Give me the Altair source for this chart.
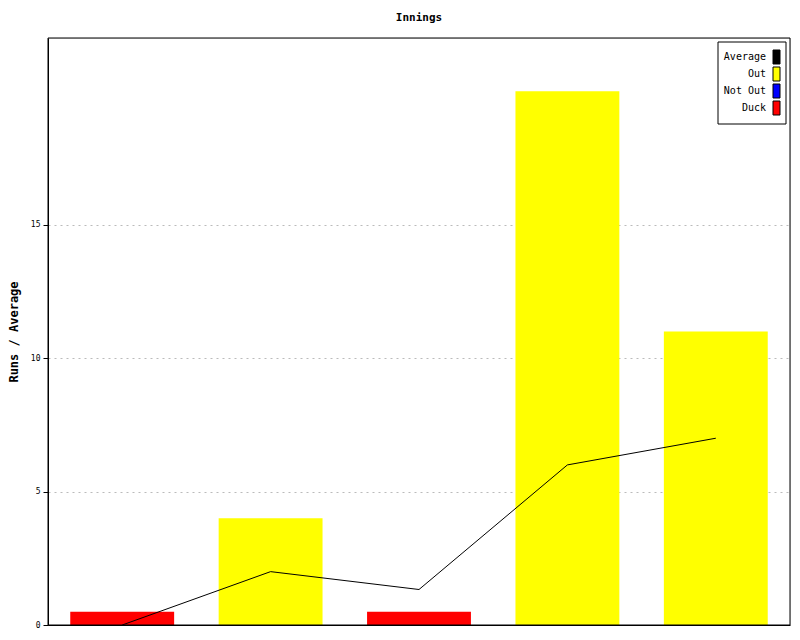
import altair as alt
import pandas as pd

innings = [1, 2, 3, 4, 5]
bar_values = [0.5, 4, 0.5, 20, 11]
status = ["Duck", "Out", "Duck", "Out", "Out"]
average = [0, 2, 1.33, 6, 7]

legend_labels = ["Average", "Out", "Not Out", "Duck"]
legend_colors = ["#000000", "#ffff00", "#0000ff", "#ff0000"]

FONT = "DejaVu Sans Mono"

df = pd.DataFrame({"inning": innings, "value": bar_values, "status": status, "avg": average})
leg = pd.DataFrame({"label": legend_labels})

color_scale = alt.Scale(domain=legend_labels, range=legend_colors)
yscale = alt.Scale(domain=[0, 22], nice=False, zero=True)
xenc = alt.X("inning:N", scale=alt.Scale(paddingInner=0.3, paddingOuter=0.15),
             axis=alt.Axis(labels=False, ticks=False, title=None, domainColor="black", grid=False))

bars = alt.Chart(df).mark_bar().encode(
    x=xenc,
    y=alt.Y("value:Q", scale=yscale,
            axis=alt.Axis(values=[0, 5, 10, 15], title="Runs / Average", grid=True,
                          gridDash=[2, 4], gridColor="#bbbbbb", domainColor="black",
                          tickColor="black", tickSize=5, labelFontSize=8, labelFont=FONT,
                          labelColor="black", labelPadding=3, titleFont=FONT, titleFontSize=12,
                          titleFontWeight="bold", titleColor="black", titlePadding=10)),
    color=alt.Color("status:N", scale=color_scale, legend=None),
)

line = alt.Chart(df).mark_line(color="black", strokeWidth=1).encode(
    x=xenc,
    y=alt.Y("avg:Q", scale=yscale, axis=None),
)

frame = alt.Chart(pd.DataFrame({"a": [0]})).mark_rect(fill="transparent", stroke="black", strokeWidth=1).encode(
    x=alt.value(0), x2=alt.value(742), y=alt.value(0), y2=alt.value(587)
)

box = alt.Chart(pd.DataFrame({"a": [0]})).mark_rect(fill="white", stroke="black", strokeWidth=1).encode(
    x=alt.value(670), x2=alt.value(738), y=alt.value(4), y2=alt.value(86)
)

leg_y = alt.Y("label:N", scale=alt.Scale(type="point", domain=legend_labels, range=[19, 70], padding=0),
              axis=None)

leg_text = alt.Chart(leg).mark_text(align="right", baseline="middle", font=FONT, fontSize=10,
                                    color="black").encode(
    x=alt.value(718), y=leg_y, text="label:N"
)

leg_swatch = alt.Chart(leg).mark_point(shape="M-0.5,-1H0.5V1H-0.5Z", size=196, filled=True,
                                       stroke="black", strokeWidth=1, opacity=1).encode(
    x=alt.value(728.5), y=leg_y,
    fill=alt.Color("label:N", scale=color_scale, legend=None),
)

chart = alt.layer(bars, line, frame, box, leg_text, leg_swatch).resolve_scale(y="independent").properties(
    width=742, height=587,
    title=alt.TitleParams("Innings", font=FONT, fontSize=11, fontWeight="bold", color="black",
                          anchor="middle", offset=15),
    autosize=alt.AutoSizeParams(type="none"),
    padding={"left": 40, "top": 30, "right": 2, "bottom": 7},
).configure_view(stroke="black", strokeWidth=1).configure(background="white")

chart.save("out.html", embed_options={"renderer": "svg", "actions": False})
